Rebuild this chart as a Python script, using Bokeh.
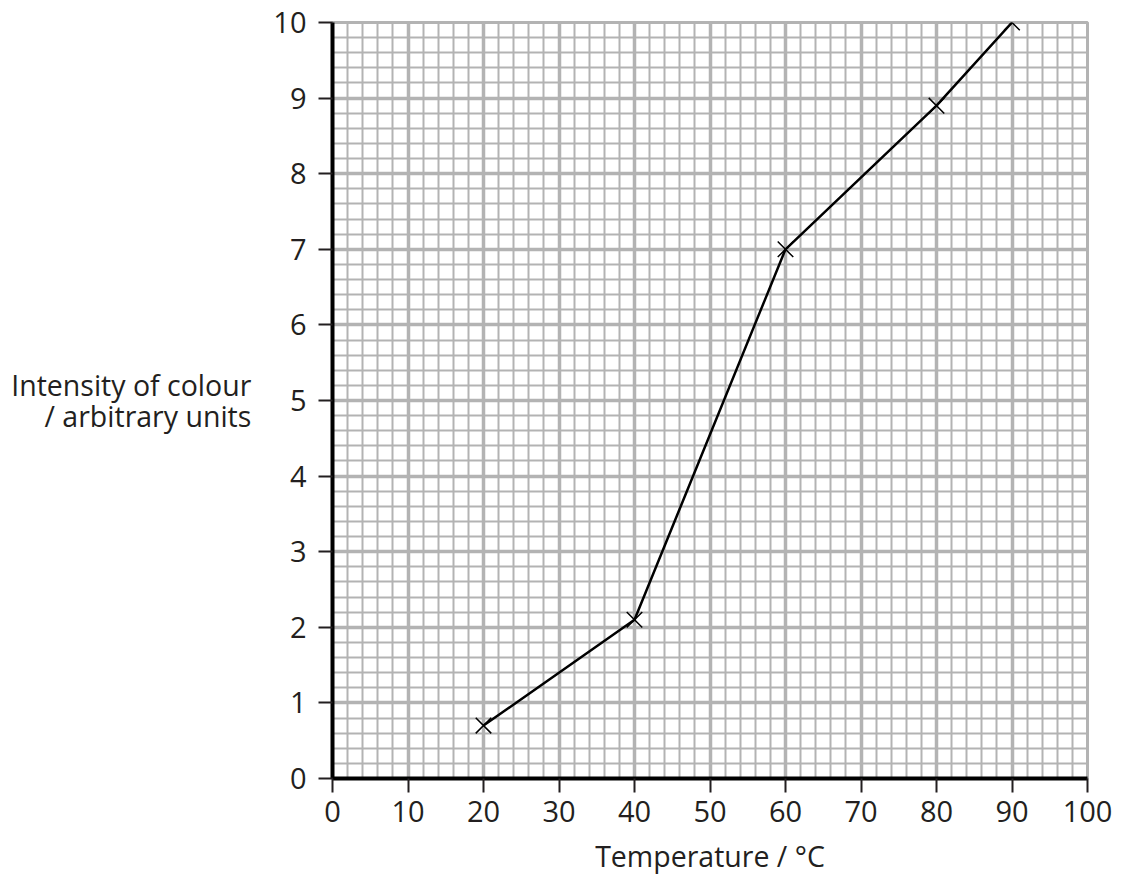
from bokeh.plotting import figure
from bokeh.models import Range1d, FixedTicker
from bokeh.embed import file_html
from bokeh.resources import INLINE

temperature = [20, 40, 60, 80, 90]
intensity = [0.7, 2.1, 7.0, 8.9, 10.0]
x_ticks = [0, 10, 20, 30, 40, 50, 60, 70, 80, 90, 100]
y_ticks = [0, 1, 2, 3, 4, 5, 6, 7, 8, 9, 10]

FONT = "Open Sans"
GRID = "#b3b3b3"
TEXT = "#231f20"

p = figure(width=1115, height=880, output_backend="svg", toolbar_location=None,
           x_range=Range1d(0, 100), y_range=Range1d(0, 10),
           min_border_left=332, min_border_top=22, min_border_right=28, min_border_bottom=102)
p.background_fill_color = "white"
p.border_fill_color = "white"
p.outline_line_color = GRID
p.outline_line_width = 3

p.xaxis.ticker = FixedTicker(ticks=x_ticks, minor_ticks=list(range(0, 101, 2)))
p.yaxis.ticker = FixedTicker(ticks=y_ticks, minor_ticks=[i / 5 for i in range(0, 51)])

for g in (p.xgrid, p.ygrid):
    g.grid_line_color = GRID
    g.grid_line_width = 3.5
    g.minor_grid_line_color = GRID
    g.minor_grid_line_width = 2

for ax in (p.xaxis, p.yaxis):
    ax.axis_line_color = "black"
    ax.axis_line_width = 4
    ax.major_tick_line_color = TEXT
    ax.major_tick_line_width = 2
    ax.major_tick_out = 14
    ax.major_tick_in = 0
    ax.minor_tick_line_color = None
    ax.major_label_text_font = FONT
    ax.major_label_text_font_size = "29px"
    ax.major_label_text_color = TEXT
    ax.axis_label_text_font = FONT
    ax.axis_label_text_font_size = "28.5px"
    ax.axis_label_text_font_style = "normal"
    ax.axis_label_text_color = TEXT

p.xaxis.major_label_standoff = 8
p.yaxis.major_label_standoff = 12
p.xaxis.axis_label = "Temperature / °C"
p.xaxis.axis_label_standoff = 12
p.yaxis.axis_label = "Intensity of colour\n/ arbitrary units"
p.yaxis.axis_label_orientation = "horizontal"
p.yaxis.axis_label_standoff = 19
p.yaxis.axis_label_text_line_height = 0.8

p.line(temperature, intensity, line_color="black", line_width=2.5)
p.scatter(temperature, intensity, marker="x", size=22, line_color="black", line_width=1.5)

open("out.html", "w").write(file_html(p, INLINE))
